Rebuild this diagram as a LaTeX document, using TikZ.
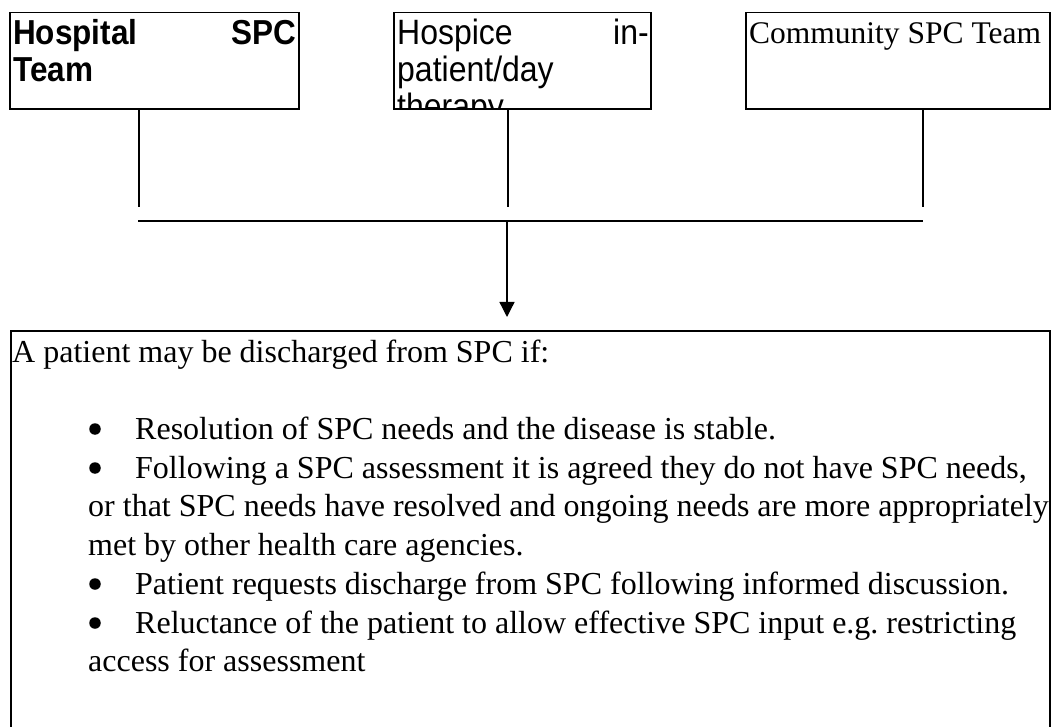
\documentclass[tikz,border=0pt]{standalone}
\usepackage{fontspec}
\usepackage{graphicx}
\setmainfont{Liberation Serif}
\newfontfamily\arialfont{Liberation Sans}
\usetikzlibrary{arrows.meta}
\newcommand{\tallsans}[1]{\scalebox{1}[1.1]{#1}}
\tikzset{
  boxnode/.style={draw, line width=1.3pt, inner sep=0pt, rectangle},
  linkline/.style={line width=1.3pt},
  sanstxt/.style={anchor=base west, inner sep=0pt, font=\arialfont\fontsize{32}{37}\selectfont},
  sansbold/.style={anchor=base west, inner sep=0pt, font=\arialfont\bfseries\fontsize{31.5}{37}\selectfont},
  seriftxt/.style={anchor=base west, inner sep=0pt, font=\fontsize{32}{38}\selectfont},
  bulletdot/.style={circle, fill=black, inner sep=0pt, minimum size=11.5pt}
}
\begin{document}
\begin{tikzpicture}[x=1pt,y=-1pt]
\clip (0,0) rectangle (1052,727);
\fill[white] (0,0) rectangle (1052,727);

% top boxes
\node[boxnode, minimum width=289pt, minimum height=96.5pt] (b1) at (154.5,60.9) {};
\node[boxnode, minimum width=257pt, minimum height=96.5pt] (b2) at (522.5,60.9) {};
\node[boxnode, minimum width=304pt, minimum height=96.5pt] (b3) at (898,60.9) {};

% box 1 text
\node[sansbold] (b1a) at (13,45) {\tallsans{Hospital}};
\node[sansbold, anchor=base east] (b1b) at (296,45) {\tallsans{SPC}};
\node[sansbold] (b1c) at (13,82) {\tallsans{Team}};

% box 2 text (clipped at the border)
\begin{scope}
\clip (394,12.7) rectangle (651,109);
\node[sanstxt] (b2a) at (397,45) {\tallsans{Hospice}};
\node[sanstxt, anchor=base east] (b2b) at (649,45) {\tallsans{in-}};
\node[sanstxt] (b2c) at (397,82) {\tallsans{patient/day}};
\node[sanstxt] (b2d) at (397,119) {\tallsans{therapy}};
\end{scope}
\node[boxnode, minimum width=257pt, minimum height=96.5pt] (b2frame) at (522.5,60.9) {};

% box 3 text
\node[seriftxt, font=\fontsize{31.5}{38}\selectfont] (b3a) at (749,44) {Community SPC Team};

% connectors
\coordinate (j1) at (139,207);
\coordinate (j2) at (508,207);
\coordinate (j3) at (923,207);
\coordinate (h1) at (138,221);
\coordinate (h2) at (923,221);
\coordinate (hm) at (507,221);
\coordinate (tip) at (507,317);
\draw[linkline] (b1.south -| j1) -- (j1);
\draw[linkline] (b2.south -| j2) -- (j2);
\draw[linkline] (b3.south -| j3) -- (j3);
\draw[linkline] (h1) -- (h2);
\draw[linkline, -{Triangle[width=15pt,length=15pt]}] (hm) -- (tip);

% bottom box
\node[boxnode, minimum width=1039pt, minimum height=429pt] (bot) at (530.5,545.5) {};

\node[seriftxt] (t0) at (12,362) {A patient may be discharged from SPC if:};
\node[bulletdot] (u1) at (95,429) {};
\node[seriftxt] (t1) at (135,439) {Resolution of SPC needs and the disease is stable.};
\node[bulletdot] (u2) at (95,468) {};
\node[seriftxt] (t2) at (135,478) {Following a SPC assessment it is agreed they do not have SPC needs,};
\node[seriftxt] (t3) at (88,516) {or that SPC needs have resolved and ongoing needs are more appropriately};
\node[seriftxt] (t4) at (88,555) {met by other health care agencies.};
\node[bulletdot] (u3) at (95,584) {};
\node[seriftxt] (t5) at (135,594) {Patient requests discharge from SPC following informed discussion.};
\node[bulletdot] (u4) at (95,623) {};
\node[seriftxt] (t6) at (135,633) {Reluctance of the patient to allow effective SPC input e.g.\ restricting};
\node[seriftxt] (t7) at (88,671) {access for assessment};
\end{tikzpicture}
\end{document}
